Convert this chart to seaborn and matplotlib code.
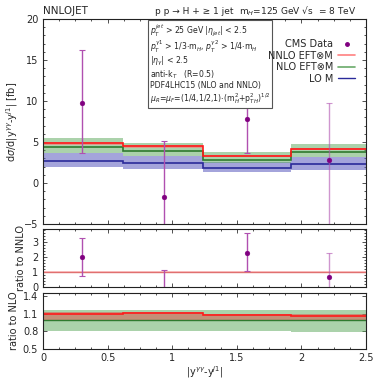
import numpy as np
import matplotlib
matplotlib.use("Agg")
import matplotlib.pyplot as plt
from matplotlib.ticker import MultipleLocator
from matplotlib.lines import Line2D
import seaborn as sns
import pandas as pd

sns.set_theme(style="ticks")
plt.rcParams['font.family'] = ['DejaVu Sans']
plt.rcParams['mathtext.fontset'] = 'dejavusans'

# ---- data ----
edges = [0.0, 0.62, 1.24, 1.92, 2.5]
nnlo = [4.85, 4.5, 3.33, 4.18]
nnlo_lo = [4.6, 4.3, 3.15, 4.0]
nnlo_hi = [5.05, 4.65, 3.45, 4.3]
nlo = [4.4, 3.95, 2.85, 3.75]
nlo_lo = [3.65, 3.3, 2.45, 3.15]
nlo_hi = [5.45, 4.85, 3.78, 4.72]
lo = [2.7, 2.4, 1.88, 2.32]
lo_lo = [1.95, 1.7, 1.32, 1.6]
lo_hi = [3.65, 3.3, 2.6, 3.2]

data_x = [0.305, 0.94, 1.58, 2.21]
data_y = [9.8, -1.75, 7.8, 2.8]
data_err_lo = [6.1, 7.5, 4.2, 8.5]
data_err_hi = [6.4, 6.9, 4.4, 7.0]

ratio_nnlo_y = [2.0, -0.39, 2.3, 0.65]
ratio_nnlo_err_lo = [1.28, 1.6, 1.25, 1.9]
ratio_nnlo_err_hi = [1.3, 1.5, 1.3, 1.65]
nnlo_band_r_lo = [0.95, 0.95, 0.95, 0.95]
nnlo_band_r_hi = [1.05, 1.05, 1.05, 1.05]

r_nnlo_nlo = [1.09, 1.11, 1.07, 1.06]
r_nnlo_nlo_lo = [1.0, 1.0, 1.0, 1.0]
r_nnlo_nlo_hi = [1.12, 1.13, 1.10, 1.09]
r_nlo = [1.0, 1.0, 1.0, 1.0]
r_nlo_lo = [0.81, 0.81, 0.81, 0.79]
r_nlo_hi = [1.17, 1.17, 1.17, 1.17]

# ---- styles ----
RED = '#ff1a1a'
RED_BAND = (1.0, 0.45, 0.45, 0.55)
GREEN_LINE = '#2f7a2f'
GREEN_BAND = (0.35, 0.65, 0.35, 0.5)
BLUE_LINE = '#2a2a9a'
BLUE_BAND = (0.35, 0.35, 0.75, 0.55)
DATA_C = '#800080'
ERR_C = '#b050b0'

fig = plt.figure(figsize=(3.82, 3.82), dpi=100)
L, W = 43/382, 323/382
ax1 = fig.add_axes([L, 1-224/382, W, 205/382])
ax2 = fig.add_axes([L, 1-287/382, W, 58/382])
ax3 = fig.add_axes([L, 1-349/382, W, 56/382])

def band(ax, lo_, hi_, color):
    ax.stairs(hi_, edges, baseline=lo_, fill=True, color=color, lw=0)

def line(ax, v, color, lw=1.2):
    ax.stairs(v, edges, baseline=None, color=color, lw=lw)

# main panel
band(ax1, lo_lo, lo_hi, BLUE_BAND)
band(ax1, nlo_lo, nlo_hi, GREEN_BAND)
band(ax1, nnlo_lo, nnlo_hi, RED_BAND)
line(ax1, lo, BLUE_LINE)
line(ax1, nlo, GREEN_LINE)
line(ax1, nnlo, RED)

alphas = [1.0, 1.0, 1.0, 0.6]
for x, y, el, eh, a in zip(data_x, data_y, data_err_lo, data_err_hi, alphas):
    ax1.errorbar(x, y, yerr=[[el], [eh]], fmt='none', ecolor=ERR_C, elinewidth=1.0,
                 capsize=2, capthick=0.8, alpha=a)
df = pd.DataFrame({'x': data_x, 'y': data_y})
sns.scatterplot(data=df, x='x', y='y', ax=ax1, color=DATA_C, s=12,
                edgecolor=DATA_C, zorder=5, legend=False)

ax1.set_xlim(0, 2.5)
ax1.set_ylim(-5, 20)
ax1.yaxis.set_major_locator(MultipleLocator(5))
ax1.yaxis.set_minor_locator(MultipleLocator(1))
ax1.set_xticklabels([])
ax1.set_xlabel('')
ax1.set_ylabel(r'd$\sigma$/d|y$^{\gamma\gamma}$-y$^{j1}$| [fb]', fontsize=7, labelpad=3)

txt = ("$p_T^{jet}$ > 25 GeV $|\\eta_{jet}|$ < 2.5\n"
       "$p_T^{\\gamma 1}$ > 1/3$\\cdot$m$_H$, $p_T^{\\gamma 2}$ > 1/4$\\cdot$m$_H$\n"
       "$|\\eta_\\gamma|$ < 2.5\n"
       "anti-k$_T$   (R=0.5)\n"
       "PDF4LHC15 (NLO and NNLO)\n"
       "$\\mu_R$=$\\mu_F$=(1/4,1/2,1)$\\cdot$(m$_H^2$+p$_{TH}^2$)$^{1/2}$")
ax1.text(0.33, 0.985, txt, transform=ax1.transAxes, fontsize=5.6, va='top', ha='left',
         linespacing=1.05,
         bbox=dict(boxstyle='square,pad=0.25', fc='white', ec='#555555', lw=0.8))

handles = [Line2D([], [], ls='none', marker='o', ms=2.5, color=DATA_C),
           Line2D([], [], color='#ff8080', lw=1.2),
           Line2D([], [], color='#6aaa6a', lw=1.2),
           Line2D([], [], color=BLUE_LINE, lw=1.0)]
labels = ['CMS Data', 'NNLO EFT⊗M', 'NLO EFT⊗M', 'LO M']
ax1.legend(handles, labels, loc='upper right', bbox_to_anchor=(0.985, 0.93),
           frameon=False, markerfirst=False, fontsize=7, handlelength=1.8,
           labelspacing=0.15, borderpad=0.1, handletextpad=0.5)

fig.text(L, 1-14/382, 'NNLOJET', fontsize=7.5, ha='left', va='baseline')
fig.text(155/382, 1-14/382, 'p p → H + ≥ 1 jet', fontsize=6.5, ha='left', va='baseline')
fig.text(356/382, 1-14/382, 'm$_H$=125 GeV √s  = 8 TeV', fontsize=6.5, ha='right', va='baseline')

# middle panel
band(ax2, nnlo_band_r_lo, nnlo_band_r_hi, (1.0, 0.6, 0.6, 0.5))
ax2.axhline(1.0, color='#e07070', lw=1.0)
for x, y, el, eh, a in zip(data_x, ratio_nnlo_y, ratio_nnlo_err_lo, ratio_nnlo_err_hi, alphas):
    ax2.errorbar(x, y, yerr=[[el], [eh]], fmt='none', ecolor=ERR_C, elinewidth=1.0,
                 capsize=2, capthick=0.8, alpha=a)
dfr = pd.DataFrame({'x': data_x, 'y': ratio_nnlo_y})
sns.scatterplot(data=dfr, x='x', y='y', ax=ax2, color=DATA_C, s=12,
                edgecolor=DATA_C, zorder=5, legend=False)
ax2.set_xlim(0, 2.5)
ax2.set_ylim(0, 3.9)
ax2.yaxis.set_major_locator(MultipleLocator(1))
ax2.yaxis.set_minor_locator(MultipleLocator(0.2))
ax2.set_xticklabels([])
ax2.set_xlabel('')
ax2.set_ylabel('ratio to NNLO', fontsize=7, labelpad=4)

# bottom panel
band(ax3, r_nlo_lo, r_nlo_hi, GREEN_BAND)
band(ax3, r_nnlo_nlo_lo, r_nnlo_nlo_hi, (0.85, 0.35, 0.3, 0.55))
line(ax3, r_nlo, GREEN_LINE, 1.0)
line(ax3, r_nnlo_nlo, RED, 1.2)
ax3.set_xlim(0, 2.5)
ax3.set_ylim(0.5, 1.45)
ax3.set_yticks([0.5, 0.8, 1.1, 1.4])
ax3.set_ylabel('ratio to NLO', fontsize=7, labelpad=3)
ax3.set_xlabel(r'|y$^{\gamma\gamma}$-y$^{j1}$|', fontsize=7, labelpad=1)

for ax in (ax1, ax2, ax3):
    ax.xaxis.set_major_locator(MultipleLocator(0.5))
    ax.xaxis.set_minor_locator(MultipleLocator(0.125))
    ax.tick_params(which='both', direction='in', top=True, right=True,
                   labelsize=7, width=0.6, color='#333333')
    ax.tick_params(which='major', length=3)
    ax.tick_params(which='minor', length=1.5)
    for s in ax.spines.values():
        s.set_linewidth(0.8)
        s.set_color('#222222')
ax3.set_xticks([0, 0.5, 1, 1.5, 2, 2.5])
ax3.set_xticklabels(['0', '0.5', '1', '1.5', '2', '2.5'])
ax3.tick_params(axis='x', pad=3)

fig.savefig('out.png', dpi=100)
